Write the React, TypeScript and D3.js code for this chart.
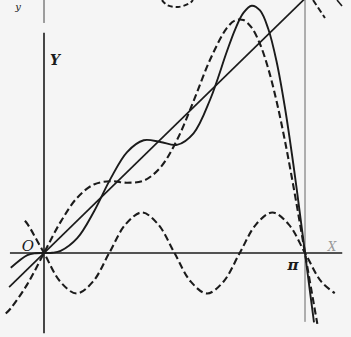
import * as d3 from "d3";

// readings from the figure, x and y in plot units (pi = 3.1416)
const lineYX: [number, number][] = [[-0.42, -0.42], [3.17, 3.17]];

const sum3: [number, number][] = [
  [-0.46, -0.747], [-0.4, -0.683], [-0.2, -0.384], [0, 0], [0.2, 0.384], [0.4, 0.683],
  [0.6, 0.846], [0.8, 0.886], [1.0, 0.868], [1.2, 0.893], [1.4, 1.055], [1.6, 1.393],
  [1.8, 1.875], [2.0, 2.389], [2.2, 2.776], [2.3, 2.871], [2.4, 2.876], [2.5, 2.781],
  [2.6, 2.58], [2.7, 2.274], [2.8, 1.871], [2.9, 1.385], [3.0, 0.836], [3.1, 0.249],
  [3.1416, 0], [3.2, -0.35], [3.29, -0.875],
];

const sum4: [number, number][] = [
  [-0.4, -0.183], [-0.2, -0.026], [-0.1, -0.003], [0, 0], [0.1, 0.003], [0.2, 0.026],
  [0.4, 0.183], [0.6, 0.509], [0.8, 0.915], [1.0, 1.246], [1.2, 1.392], [1.4, 1.371],
  [1.6, 1.335], [1.8, 1.478], [2.0, 1.895], [2.2, 2.484], [2.3, 2.759], [2.4, 2.964],
  [2.5, 3.053], [2.6, 2.994], [2.7, 2.765], [2.8, 2.361], [2.9, 1.796], [3.0, 1.105],
  [3.1, 0.332], [3.1416, 0], [3.2, -0.465], [3.25, -0.855],
];

const term4: [number, number][] = [
  [-0.23, 0.398], [-0.196, 0.354], [0, 0], [0.196, -0.354], [0.393, -0.5], [0.589, -0.354],
  [0.785, 0], [0.982, 0.354], [1.178, 0.5], [1.374, 0.354], [1.571, 0], [1.767, -0.354],
  [1.963, -0.5], [2.16, -0.354], [2.356, 0], [2.553, 0.354], [2.749, 0.5], [2.945, 0.354],
  [3.142, 0], [3.338, -0.354], [3.5, -0.495],
];

// bits of the figure above that got cut into the page
const topArc: [number, number][] = [[1.42, 3.123], [1.48, 3.062], [1.613, 3.037], [1.757, 3.086], [1.793, 3.123]];
const topDash1: [number, number][] = [[3.238, 3.123], [3.382, 2.901]];
const topDash2: [number, number][] = [[3.527, 3.123], [3.587, 3.049]];

const xAxisRange = [-0.41, 3.59];
const yAxisLower = [-0.99, 2.72];
const yAxisUpper = [2.84, 3.2];
const piLineRange = [-0.85, 3.2];

export default function App() {
  const width = 351;
  const height = 337;

  const x = d3.scaleLinear().domain([0, Math.PI]).range([44, 305]);
  const y = d3.scaleLinear().domain([0, 1]).range([253, 172]);

  const smooth = d3.line<[number, number]>()
    .x(d => x(d[0]))
    .y(d => y(d[1]))
    .curve(d3.curveCatmullRom.alpha(0.5));

  const ink = "#1b1b1b";
  const dash = "7 3.5";

  return (
    <svg width={width} height={height} style={{ position: "absolute", left: 0, top: 0 }}>
      <rect width={width} height={height} fill="#f5f5f5" />

      {/* axes */}
      <line x1={x(xAxisRange[0])} x2={x(xAxisRange[1])} y1={y(0)} y2={y(0)} stroke={ink} strokeWidth={1.5} />
      <line x1={x(0)} x2={x(0)} y1={y(yAxisLower[0])} y2={y(yAxisLower[1])} stroke={ink} strokeWidth={1.6} />
      <line x1={x(0)} x2={x(0)} y1={y(yAxisUpper[0])} y2={y(yAxisUpper[1])} stroke="#444" strokeWidth={1} />
      <line x1={x(Math.PI)} x2={x(Math.PI)} y1={y(piLineRange[0])} y2={y(piLineRange[1])} stroke="#666" strokeWidth={1} />

      {/* curves */}
      <path d={smooth(lineYX) ?? ""} fill="none" stroke={ink} strokeWidth={1.7} />
      <path d={smooth(sum4) ?? ""} fill="none" stroke={ink} strokeWidth={1.9} />
      <path d={smooth(sum3) ?? ""} fill="none" stroke={ink} strokeWidth={2.1} strokeDasharray={dash} />
      <path d={smooth(term4) ?? ""} fill="none" stroke={ink} strokeWidth={2.1} strokeDasharray={dash} />

      <path d={smooth(topArc) ?? ""} fill="none" stroke={ink} strokeWidth={2} strokeDasharray="5 3" />
      <path d={smooth(topDash1) ?? ""} fill="none" stroke={ink} strokeWidth={2} strokeDasharray="6 3" />
      <path d={smooth(topDash2) ?? ""} fill="none" stroke={ink} strokeWidth={1.6} />

      {/* labels */}
      <text x={18} y={10} textAnchor="middle" fontFamily="DejaVu Serif" fontStyle="italic" fontSize={10} fill={ink}>y</text>
      <text x={55} y={65} textAnchor="middle" fontFamily="DejaVu Serif" fontStyle="italic" fontWeight="bold" fontSize={14} fill={ink}>Y</text>
      <text x={28} y={251} textAnchor="middle" fontFamily="DejaVu Serif" fontStyle="italic" fontSize={15} fill={ink}>O</text>
      <text x={293} y={270} textAnchor="middle" fontFamily="DejaVu Serif" fontStyle="italic" fontWeight="bold" fontSize={15} fill={ink}>π</text>
      <text x={332} y={251} textAnchor="middle" fontFamily="DejaVu Serif" fontStyle="italic" fontSize={12} fill="#999">X</text>
    </svg>
  );
}
